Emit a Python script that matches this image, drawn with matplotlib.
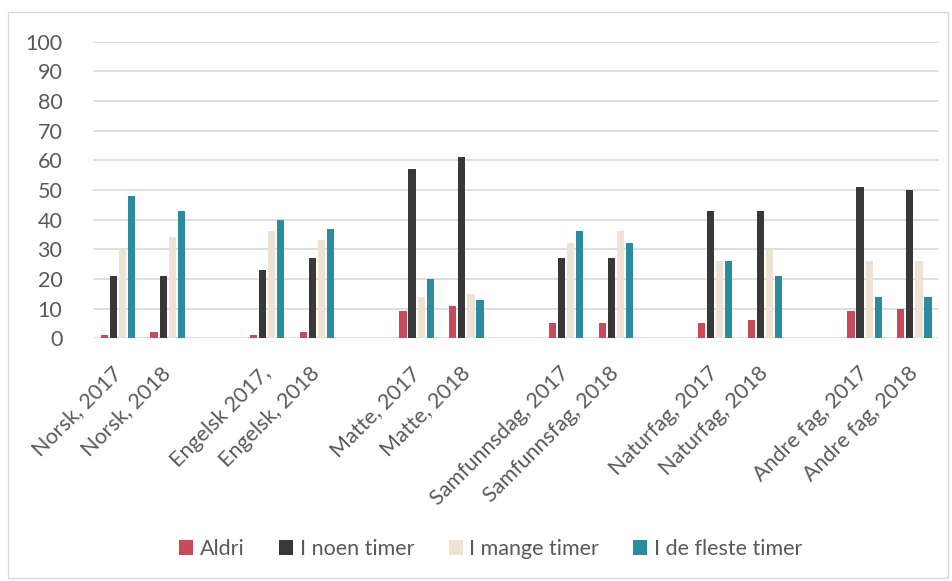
import matplotlib

matplotlib.use("Agg")
import matplotlib.pyplot as plt
import numpy as np
from matplotlib.patches import Rectangle

plt.rcParams["font.family"] = ["Lato", "DejaVu Sans"]

CATEGORIES = [
    "Norsk, 2017", "Norsk, 2018", "",
    "Engelsk 2017,", "Engelsk, 2018", "",
    "Matte, 2017", "Matte, 2018", "",
    "Samfunnsdag, 2017", "Samfunnsfag, 2018", "",
    "Naturfag, 2017", "Naturfag, 2018", "",
    "Andre fag, 2017", "Andre fag, 2018",
]
SERIES = ["Aldri", "I noen timer", "I mange timer", "I de fleste timer"]
ALDRI = [1, 2, None, 1, 2, None, 9, 11, None, 5, 5, None, 5, 6, None, 9, 10]
NOEN = [21, 21, None, 23, 27, None, 57, 61, None, 27, 27, None, 43, 43, None, 51, 50]
MANGE = [30, 34, None, 36, 33, None, 14, 15, None, 32, 36, None, 26, 30, None, 26, 26]
FLESTE = [48, 43, None, 40, 37, None, 20, 13, None, 36, 32, None, 26, 21, None, 14, 14]

COLORS = ["#C84B5A", "#383838", "#EDE2D3", "#2A8C9E"]
INK = "#595959"
GRID = "#D9D9D9"

fig = plt.figure(figsize=(9.53, 5.81), dpi=100)
ax = fig.add_axes([0.0976, 0.418, 0.888, 0.510])

x = np.arange(len(CATEGORIES))
step = 0.182
width = 0.145
for i, (name, vals, color) in enumerate(zip(SERIES, [ALDRI, NOEN, MANGE, FLESTE], COLORS)):
    idx = [j for j, v in enumerate(vals) if v is not None]
    ys = [vals[j] for j in idx]
    ax.bar(x[idx] + (i - 1.5) * step, ys, width, color=color, label=name, zorder=3)

ax.set_xlim(-0.5, len(CATEGORIES) - 0.5)
ax.set_ylim(0, 100)
ax.set_yticks(range(0, 101, 10))
ax.yaxis.grid(True, color=GRID, linewidth=1.2, zorder=0)
ax.tick_params(axis="y", length=0, pad=22, labelsize=15.5, labelcolor=INK)
ax.tick_params(axis="x", length=0, pad=23)
ax.set_xticks(x)
ax.set_xticklabels(CATEGORIES, rotation=45, ha="right", va="center",
                   rotation_mode="anchor", fontsize=15.5, color=INK)
for spine in ax.spines.values():
    spine.set_visible(False)

fig.legend(loc="center", bbox_to_anchor=(0.515, 0.055), ncol=4, frameon=False,
           fontsize=15.5, labelcolor=INK, handlelength=0.65, handleheight=0.65,
           handletextpad=0.3, columnspacing=1.6)

fig.patches.append(Rectangle((8 / 953, 3 / 581), 940 / 953, 566 / 581,
                             transform=fig.transFigure, fill=False,
                             edgecolor=GRID, linewidth=1))

fig.savefig("out.png", dpi=100)
